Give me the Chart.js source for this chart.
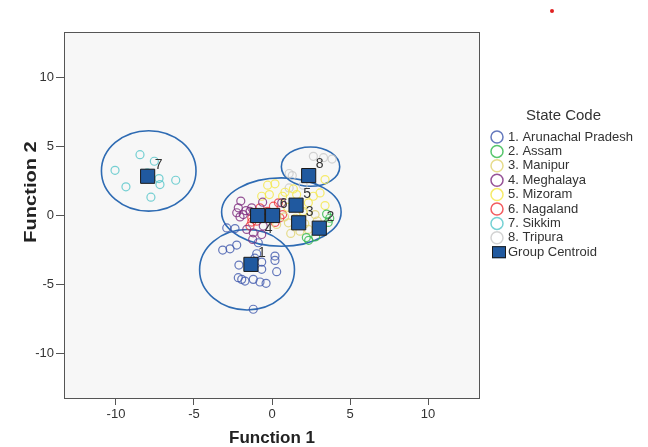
<!DOCTYPE html>
<html>
<head>
<meta charset="utf-8">
<script src="https://cdn.jsdelivr.net/npm/chart.js@4.4.1/dist/chart.umd.min.js"></script>
<style>
body { margin: 0; background: #fff; }
#wrap { position: relative; width: 648px; height: 447px; }
#dot { position: absolute; left: 550px; top: 9px; width: 4px; height: 4px; border-radius: 2px; background: #e02020; }
</style>
</head>
<body>
<div id="wrap"><canvas id="myChart" width="648" height="447"></canvas><div id="dot"></div></div>
<script>
const stateNames = ["1. Arunachal Pradesh", "2. Assam", "3. Manipur", "4. Meghalaya", "5. Mizoram", "6. Nagaland", "7. Sikkim", "8. Tripura"];
const stateColors = ["rgba(62,88,172,0.8)", "rgba(46,184,72,0.8)", "rgba(226,214,120,0.85)", "rgba(124,40,125,0.8)", "rgba(245,232,80,0.85)", "rgba(239,51,56,0.8)", "rgba(72,194,197,0.75)", "rgba(200,200,200,0.8)"];

// discriminant scores per state (Function 1, Function 2)
const arunachal = [[-2.9,-0.9],[-2.37,-0.95],[-0.88,-1.98],[-2.26,-2.15],[-2.69,-2.42],[-3.16,-2.51],[-0.98,-2.78],[0.19,-2.95],[0.19,-3.26],[-2.12,-3.6],[-0.66,-3.38],[-0.66,-3.91],[0.3,-4.08],[-2.16,-4.52],[-1.94,-4.64],[-1.73,-4.76],[-1.2,-4.64],[-0.77,-4.83],[-0.38,-4.93],[-1.2,-6.81],[-1.1,-3.1]];
const assam = [[3.5,0.1],[3.7,-0.2],[2.2,-1.6],[2.35,-1.8],[2.8,-1.55],[3.6,-0.5]];
const manipur = [[0.3,-0.65],[1.05,-0.53],[1.79,-1.14],[2.33,-1.01],[2.76,0.07],[2.0,0.2],[1.5,-0.2],[0.8,-0.1],[2.9,-0.4],[1.2,-1.3],[2.1,-0.6]];
const meghalaya = [[-2.0,1.05],[-0.6,0.97],[-2.26,0.2],[-1.67,0.35],[-1.41,0.3],[-2.16,0.56],[-1.3,0.56],[-1.84,0.07],[-2.05,-0.1],[-1.62,-1.01],[-0.56,-0.77],[-0.66,-1.38],[-1.24,-1.74],[-1.2,-1.26],[0.62,0.92]];
const mizoram = [[0.19,2.3],[-0.28,2.2],[-0.17,1.52],[0.83,1.69],[1.37,1.93],[1.58,1.52],[3.08,1.64],[2.65,1.4],[3.4,0.72],[2.33,0.92],[3.4,2.61],[0.68,1.4],[-0.66,1.4],[1.0,0.6],[2.0,0.3]];
const nagaland = [[0.09,0.68],[0.41,0.92],[0.68,0.07],[-1.3,-0.48],[-1.09,-0.05],[-0.77,0.56],[-1.3,-0.17],[-0.98,-0.41],[-1.41,-0.77],[0.51,-0.17],[-0.3,0.3],[0.2,-0.5]];
const sikkim = [[-8.46,4.42],[-7.54,3.94],[-10.06,3.28],[-7.99,3.09],[-7.24,2.68],[-7.18,2.25],[-6.17,2.56],[-9.36,2.08],[-7.76,1.33]];
const tripura = [[2.65,4.3],[3.3,4.2],[3.85,4.1],[1.1,3.05],[1.3,2.9],[2.0,2.2],[1.1,2.0]];

const centroidX = [-1.35, 3.03, 1.71, -0.92, 1.54, 0.04, -7.97, 2.35];
const centroidY = [-3.55, -0.92, -0.53, 0.0, 0.75, 0.0, 2.85, 2.9];
const centroidLabels = ["1", "2", "3", "4", "5", "6", "7", "8"];

// hand-drawn group outlines (data units)
const ellipseX = [-7.9, 2.47, 0.6, -1.6];
const ellipseY = [3.24, 3.55, 0.25, -3.94];
const ellipseRX = [3.03, 1.87, 3.83, 3.04];
const ellipseRY = [2.92, 1.43, 2.48, 2.92];

const tickValues = [-10, -5, 0, 5, 10];

const groups = [arunachal, assam, manipur, meghalaya, mizoram, nagaland, sikkim, tripura];
const datasets = groups.map(function (g, i) {
    return {
        label: stateNames[i],
        data: g.map(function (p) { return { x: p[0], y: p[1] }; }),
        borderColor: stateColors[i],
        backgroundColor: "transparent",
        pointRadius: 4,
        borderWidth: 1.2,
        order: 2
    };
});
datasets.push({
    label: "Group Centroid",
    data: centroidX.map(function (x, i) { return { x: x, y: centroidY[i] }; }),
    pointStyle: "rect",
    pointRadius: 10,
    backgroundColor: "#20599f",
    borderColor: "#1a1a1a",
    borderWidth: 1,
    order: 1
});

const frame = {
    id: "frame",
    beforeDraw: function (chart) {
        const a = chart.chartArea, c = chart.ctx;
        c.save();
        c.fillStyle = "#f7f7f7";
        c.fillRect(a.left, a.top, a.right - a.left, a.bottom - a.top);
        c.restore();
    },
    beforeDatasetsDraw: function (chart) {
        const c = chart.ctx, xs = chart.scales.x, ys = chart.scales.y;
        c.save();
        c.strokeStyle = "#2e6bb3";
        c.lineWidth = 1.6;
        for (let i = 0; i < ellipseX.length; i++) {
            const cx = xs.getPixelForValue(ellipseX[i]);
            const cy = ys.getPixelForValue(ellipseY[i]);
            const rx = xs.getPixelForValue(ellipseX[i] + ellipseRX[i]) - cx;
            const ry = cy - ys.getPixelForValue(ellipseY[i] + ellipseRY[i]);
            c.beginPath();
            c.ellipse(cx, cy, rx, ry, 0, 0, Math.PI * 2);
            c.stroke();
        }
        c.restore();
    },
    afterDatasetsDraw: function (chart) {
        const c = chart.ctx, xs = chart.scales.x, ys = chart.scales.y;
        c.save();
        c.fillStyle = "#333";
        c.font = "14px 'Liberation Sans', Arial, sans-serif";
        c.textAlign = "center";
        c.textBaseline = "middle";
        for (let i = 0; i < centroidX.length; i++) {
            const px = xs.getPixelForValue(centroidX[i]);
            const py = ys.getPixelForValue(centroidY[i]);
            const dy = centroidLabels[i] === "4" ? 14 : -11;
            c.fillText(centroidLabels[i], px + 11, py + dy);
        }
        const a = chart.chartArea;
        c.strokeStyle = "#555";
        c.lineWidth = 1;
        c.strokeRect(a.left + 0.5, a.top + 0.5, a.right - a.left - 1, a.bottom - a.top - 1);
        c.restore();
    },
    afterDraw: function (chart) {
        const c = chart.ctx;
        c.save();
        // y axis title
        c.translate(31, 192);
        c.rotate(-Math.PI / 2);
        c.scale(1.18, 1);
        c.fillStyle = "#222";
        c.font = "bold 17px 'Liberation Sans', Arial, sans-serif";
        c.textAlign = "center";
        c.textBaseline = "middle";
        c.fillText("Function 2", 0, 0);
        c.restore();

        // legend
        c.save();
        c.fillStyle = "#333";
        c.textBaseline = "middle";
        c.font = "15px 'Liberation Sans', Arial, sans-serif";
        c.fillText("State Code", 526, 116);
        c.font = "13px 'Liberation Sans', Arial, sans-serif";
        for (let i = 0; i < stateNames.length; i++) {
            const y = 137 + i * 14.4;
            c.beginPath();
            c.arc(497, y, 6, 0, Math.PI * 2);
            c.strokeStyle = stateColors[i];
            c.lineWidth = 1.5;
            c.stroke();
            c.fillStyle = "#333";
            c.fillText(stateNames[i], 508, y);
        }
        const ys = 137 + 8 * 14.4;
        c.fillStyle = "#20599f";
        c.fillRect(492, ys - 6, 14, 12);
        c.strokeStyle = "#1a1a1a";
        c.lineWidth = 1;
        c.strokeRect(492.5, ys - 5.5, 13, 11);
        c.fillStyle = "#333";
        c.fillText("Group Centroid", 508, ys);
        c.restore();
    }
};

new Chart("myChart", {
    type: "scatter",
    data: { datasets: datasets },
    options: {
        responsive: false,
        animation: false,
        layout: { padding: { top: 32, right: 168, left: 0, bottom: 0 } },
        plugins: {
            legend: { display: false },
            tooltip: { enabled: false }
        },
        scales: {
            x: {
                min: -13.33,
                max: 13.33,
                afterFit: function (s) { s.height = 48; },
                afterBuildTicks: function (s) { s.ticks = tickValues.map(function (v) { return { value: v }; }); },
                ticks: { color: "#333", padding: 2, font: { size: 13, family: "'Liberation Sans', Arial, sans-serif" }, maxRotation: 0 },
                grid: { drawOnChartArea: false, drawTicks: true, tickLength: 6, tickColor: "#555" },
                border: { display: false },
                title: {
                    display: true,
                    text: "Function 1",
                    color: "#222",
                    padding: { top: 0, bottom: 0 },
                    font: { size: 17, weight: "bold", lineHeight: 1, family: "'Liberation Sans', Arial, sans-serif" }
                }
            },
            y: {
                min: -13.33,
                max: 13.33,
                afterFit: function (s) { s.width = 64; },
                afterBuildTicks: function (s) { s.ticks = tickValues.map(function (v) { return { value: v }; }); },
                ticks: { color: "#333", padding: 2, font: { size: 13, family: "'Liberation Sans', Arial, sans-serif" } },
                grid: { drawOnChartArea: false, drawTicks: true, tickLength: 8, tickColor: "#555" },
                border: { display: false }
            }
        }
    },
    plugins: [frame]
});
</script>
</body>
</html>
